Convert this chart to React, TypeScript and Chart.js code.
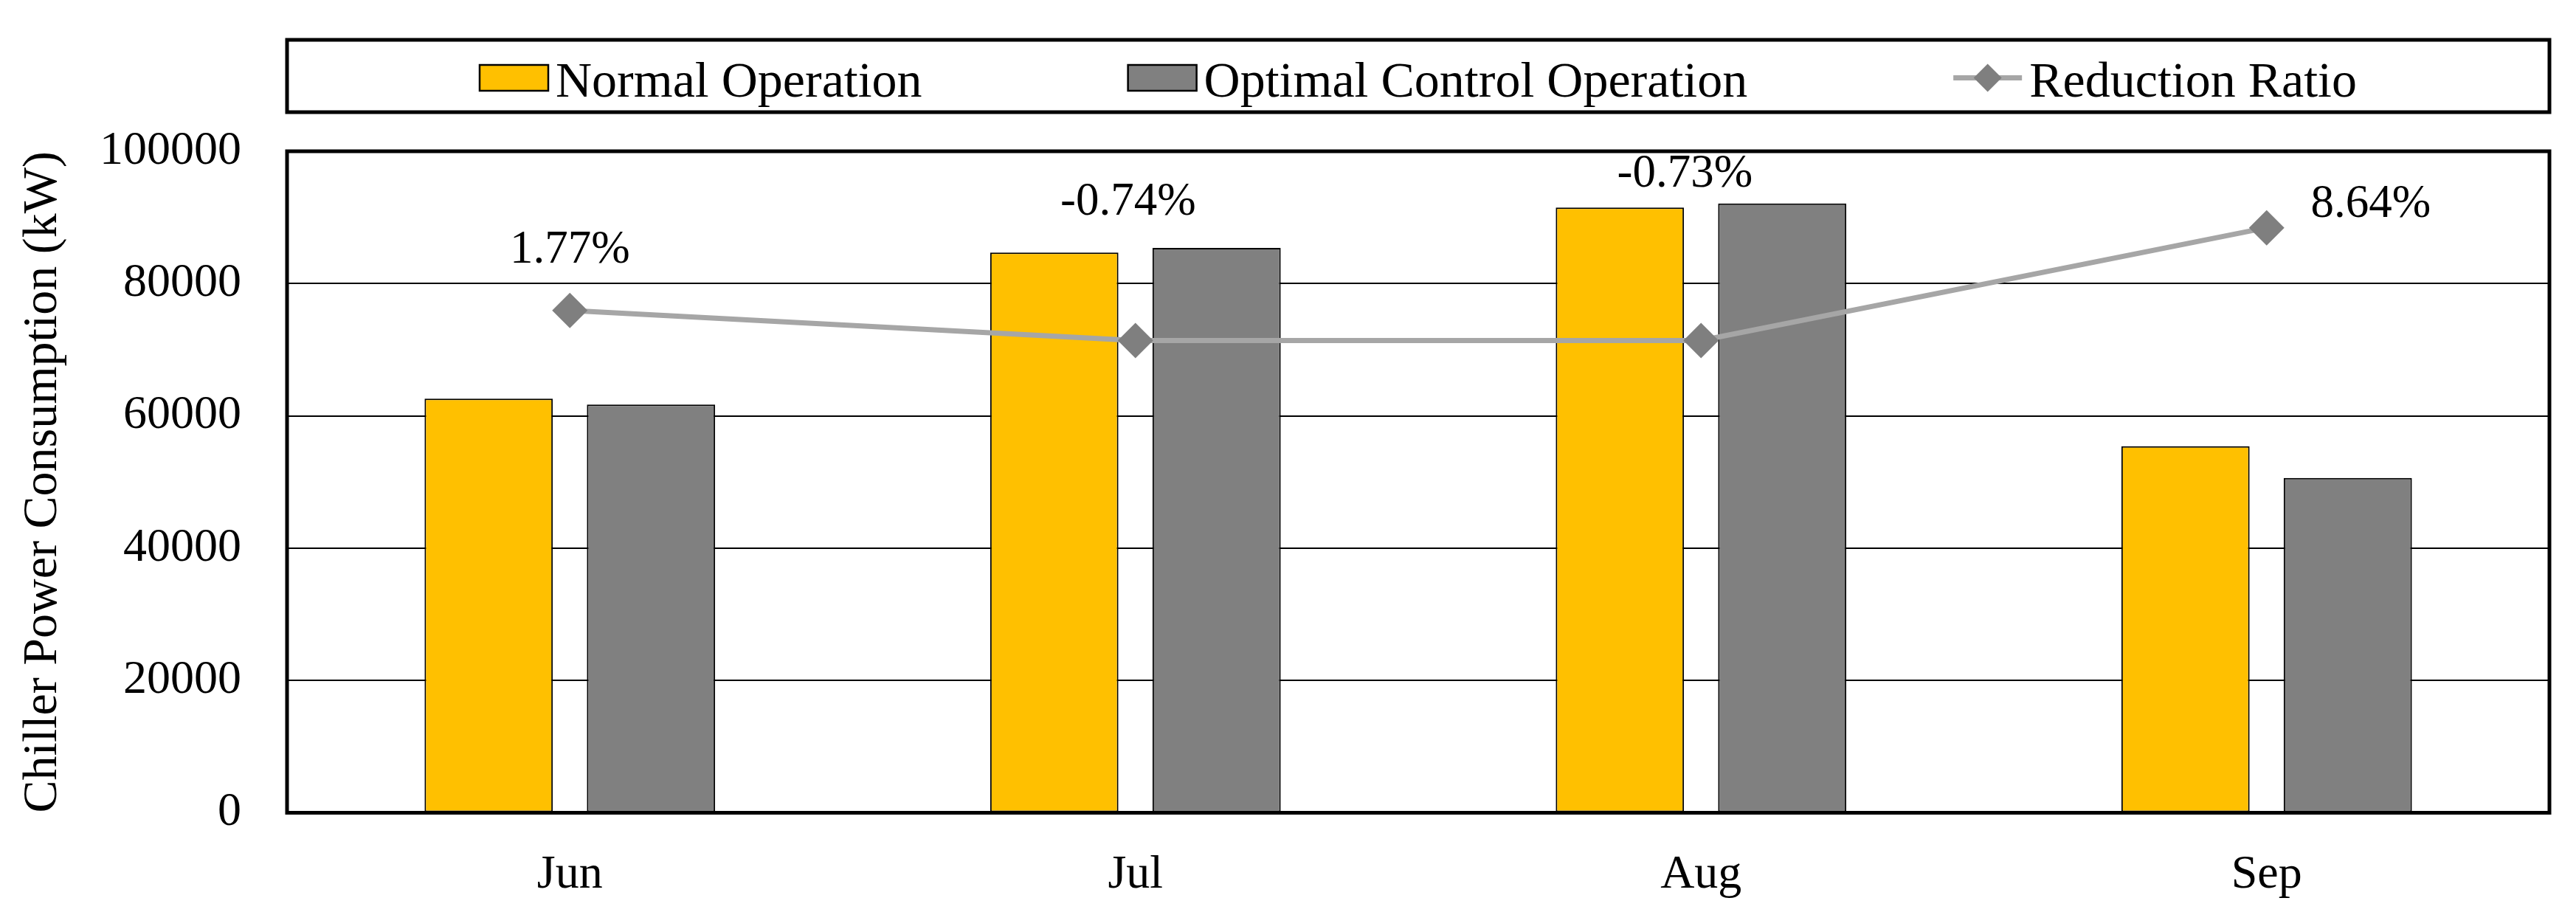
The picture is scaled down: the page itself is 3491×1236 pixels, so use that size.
import React, { useEffect, useRef } from 'react';
import { Chart, registerables } from 'chart.js';

Chart.register(...registerables);

const categories = ['Jun', 'Jul', 'Aug', 'Sep'];
const normalOperation = [62600, 84700, 91500, 55400];
const optimalControl = [61700, 85400, 92100, 50600];
const reductionRatio = [1.77, -0.74, -0.73, 8.64];
const yTicks = [0, 20000, 40000, 60000, 80000, 100000];

const FONT = "'Liberation Serif', 'Times New Roman', Times, serif";
const YELLOW = '#FFC000';
const GRAY = '#808080';
const LINE_GRAY = '#A6A6A6';
const MARKER_GRAY = '#7F7F7F';

export default function App() {
  const ref = useRef<HTMLCanvasElement>(null);

  useEffect(() => {
    const canvas = ref.current;
    if (!canvas) return;

    const framePlugin = {
      id: 'frameAndLegend',
      afterDraw(chart: any) {
        const ctx = chart.ctx as CanvasRenderingContext2D;
        const a = chart.chartArea;
        ctx.save();
        // plot area border
        ctx.strokeStyle = '#000';
        ctx.lineWidth = 5;
        ctx.strokeRect(a.left, a.top, a.right - a.left, a.bottom - a.top);

        // legend box
        const boxTop = 54;
        const boxBottom = 152;
        ctx.strokeRect(a.left, boxTop, a.right - a.left, boxBottom - boxTop);

        const fontSize = 68;
        ctx.font = `${fontSize}px ${FONT}`;
        const swW = 93;
        const swH = 35;
        const gapText = 10;
        const gapItems = 279;
        const ds = chart.data.datasets;
        const widths = ds.map((d: any) => swW + gapText + ctx.measureText(d.label).width);
        const total = widths.reduce((s: number, w: number) => s + w, 0) + gapItems * (ds.length - 1);
        let x = (a.left + a.right) / 2 - total / 2;
        const midY = 105.5;
        const baseY = 131;
        ds.forEach((d: any, i: number) => {
          if (d.type === 'line') {
            ctx.strokeStyle = d.borderColor;
            ctx.lineWidth = 7;
            ctx.beginPath();
            ctx.moveTo(x, midY);
            ctx.lineTo(x + swW, midY);
            ctx.stroke();
            const cx = x + swW / 2;
            const r = 19;
            ctx.fillStyle = d.pointBackgroundColor;
            ctx.beginPath();
            ctx.moveTo(cx - r, midY);
            ctx.lineTo(cx, midY - r);
            ctx.lineTo(cx + r, midY);
            ctx.lineTo(cx, midY + r);
            ctx.closePath();
            ctx.fill();
          } else {
            ctx.fillStyle = d.backgroundColor;
            ctx.fillRect(x, midY - swH / 2, swW, swH);
            ctx.strokeStyle = '#000';
            ctx.lineWidth = 2.5;
            ctx.strokeRect(x, midY - swH / 2, swW, swH);
          }
          ctx.fillStyle = '#000';
          ctx.textAlign = 'left';
          ctx.textBaseline = 'alphabetic';
          ctx.fillText(d.label, x + swW + gapText, baseY);
          x += widths[i] + gapItems;
        });
        ctx.restore();
      },
    };

    const labelPlugin = {
      id: 'ratioLabels',
      afterDatasetsDraw(chart: any, _args: any, opts: any) {
        const ctx = chart.ctx as CanvasRenderingContext2D;
        const meta = chart.getDatasetMeta(2);
        const offsets = opts.offsets as number[][];
        ctx.save();
        ctx.font = `${opts.size}px ${FONT}`;
        ctx.fillStyle = '#000';
        ctx.textAlign = 'center';
        ctx.textBaseline = 'middle';
        meta.data.forEach((pt: any, i: number) => {
          const v = reductionRatio[i];
          const [dx, dy] = offsets[i];
          ctx.fillText(`${v.toFixed(2)}%`, pt.x + dx, pt.y + dy);
        });
        ctx.restore();
      },
    };

    const chart = new Chart(canvas, {
      type: 'bar',
      data: {
        labels: categories,
        datasets: [
          {
            type: 'bar',
            label: 'Normal Operation',
            data: normalOperation,
            backgroundColor: YELLOW,
            borderColor: '#000',
            borderWidth: 2,
            borderSkipped: false,
            categoryPercentage: 0.574,
            barPercentage: 0.79,
            yAxisID: 'y',
            order: 1,
          },
          {
            type: 'bar',
            label: 'Optimal Control Operation',
            data: optimalControl,
            backgroundColor: GRAY,
            borderColor: '#000',
            borderWidth: 2,
            borderSkipped: false,
            categoryPercentage: 0.574,
            barPercentage: 0.79,
            yAxisID: 'y',
            order: 1,
          },
          {
            type: 'line',
            label: 'Reduction Ratio',
            data: reductionRatio,
            yAxisID: 'y1',
            borderColor: LINE_GRAY,
            borderWidth: 7,
            pointStyle: 'rectRot',
            pointRadius: 24,
            pointBackgroundColor: MARKER_GRAY,
            pointBorderColor: MARKER_GRAY,
            pointBorderWidth: 0,
            tension: 0,
            order: 0,
          } as any,
        ],
      },
      options: {
        responsive: true,
        maintainAspectRatio: false,
        animation: false,
        devicePixelRatio: 1,
        layout: { padding: { top: 205, right: 36, left: 0, bottom: 0 } },
        plugins: {
          legend: { display: false },
          tooltip: { enabled: false },
          ratioLabels: { size: 63, offsets: [[0, -81], [-10, -187], [-22, -225], [141, -31]] },
        } as any,
        scales: {
          x: {
            grid: { display: false },
            border: { display: false },
            ticks: { color: '#000', font: { family: FONT, size: 64 }, padding: 38 },
            afterFit: (s: any) => { s.height = 134.5; },
          },
          y: {
            min: 0,
            max: 100000,
            grid: { color: '#000', lineWidth: 2, drawTicks: false },
            border: { display: false },
            afterBuildTicks: (s: any) => { s.ticks = yTicks.map((v) => ({ value: v })); },
            ticks: {
              color: '#000',
              font: { family: FONT, size: 64 },
              padding: 62,
              callback: (v: any) => String(v),
            },
            title: {
              display: true,
              text: 'Chiller Power Consumption (kW)',
              color: '#000',
              font: { family: FONT, size: 66 },
              padding: { top: 19, bottom: 0 },
            },
            afterFit: (s: any) => { s.width = 389; },
          },
          y1: {
            display: false,
            position: 'right',
            min: -40,
            max: 15,
          },
        },
      },
      plugins: [framePlugin, labelPlugin],
    });

    return () => chart.destroy();
  }, []);

  return (
    <div style={{ position: 'fixed', left: 0, top: 0, width: 3491, height: 1236, background: '#fff' }}>
      <canvas ref={ref} />
    </div>
  );
}
